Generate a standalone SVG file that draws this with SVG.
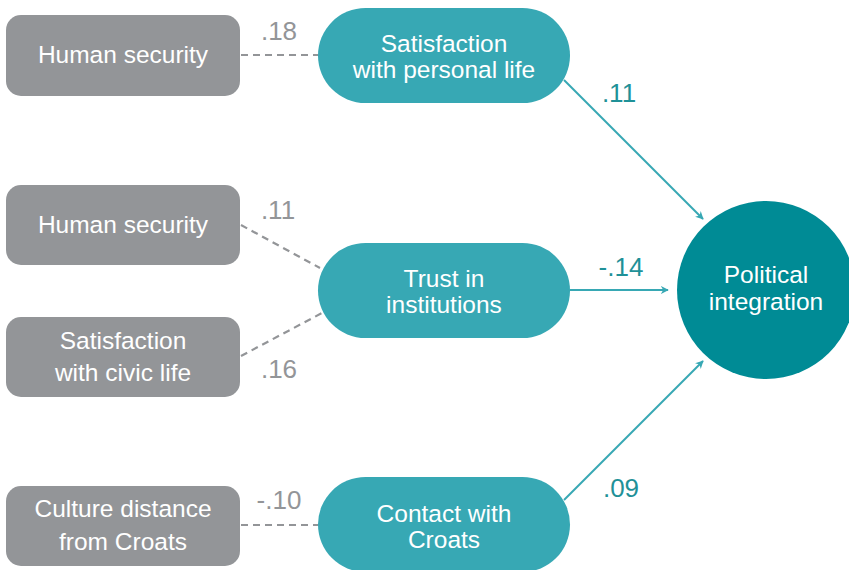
<svg xmlns="http://www.w3.org/2000/svg" width="849" height="570" viewBox="0 0 849 570">
<style>
.box{fill:#939598}
.pill{fill:#37a8b4}
.t{font-family:"Liberation Sans",Arial,sans-serif;font-size:24.5px;fill:#fff;text-anchor:middle}
.dash{stroke:#939598;stroke-width:2.2;stroke-dasharray:7,5;fill:none}
.arr{stroke:#37a8b4;stroke-width:2;fill:none;marker-end:url(#ah)}
.cg{font-family:"Liberation Sans",Arial,sans-serif;font-size:26px;fill:#939598;text-anchor:middle}
.ct{font-family:"Liberation Sans",Arial,sans-serif;font-size:26px;fill:#1f9198;text-anchor:middle}
</style>
<defs>
<marker id="ah" viewBox="0 0 10 10" refX="9" refY="5" markerWidth="8" markerHeight="8" orient="auto" markerUnits="userSpaceOnUse">
<path d="M0,0 L10,5 L0,10 L3,5 z" fill="#37a8b4"/>
</marker>
</defs>
<rect width="849" height="570" fill="#fff"/>
<g id="connectors">
<line class="dash" x1="241" y1="55" x2="318" y2="55"/>
<line class="dash" x1="241" y1="225" x2="320" y2="268"/>
<line class="dash" x1="241" y1="356" x2="322" y2="313"/>
<line class="dash" x1="241" y1="525" x2="318" y2="525"/>
<line class="arr" x1="564" y1="80" x2="703" y2="219"/>
<line class="arr" x1="570" y1="290" x2="668" y2="290"/>
<line class="arr" x1="564" y1="500" x2="703" y2="361"/>
<text class="cg" x="279" y="40">.18</text>
<text class="cg" x="278" y="219">.11</text>
<text class="cg" x="279" y="378">.16</text>
<text class="cg" x="279" y="509">-.10</text>
<text class="ct" x="619" y="102">.11</text>
<text class="ct" x="621" y="276">-.14</text>
<text class="ct" x="621" y="497">.09</text>
</g>
<g id="hs1"><rect class="box" x="6" y="15" width="234" height="81" rx="15"/><text class="t" x="123" y="63">Human security</text></g>
<g id="hs2"><rect class="box" x="6" y="185" width="234" height="80" rx="15"/><text class="t" x="123" y="233">Human security</text></g>
<g id="scl"><rect class="box" x="6" y="317" width="234" height="80" rx="15"/><text class="t" x="123" y="349">Satisfaction</text><text class="t" x="123" y="381">with civic life</text></g>
<g id="cd"><rect class="box" x="6" y="486" width="234" height="80" rx="15"/><text class="t" x="123" y="517">Culture distance</text><text class="t" x="123" y="550">from Croats</text></g>
<g id="spl"><rect class="pill" x="318" y="8" width="252" height="95" rx="47.5"/><text class="t" x="444" y="52">Satisfaction</text><text class="t" x="444" y="78">with personal life</text></g>
<g id="ti"><rect class="pill" x="318" y="243" width="252" height="95" rx="47.5"/><text class="t" x="444" y="287">Trust in</text><text class="t" x="444" y="313">institutions</text></g>
<g id="cc"><rect class="pill" x="318" y="477" width="252" height="95" rx="47.5"/><text class="t" x="444" y="522">Contact with</text><text class="t" x="444" y="548">Croats</text></g>
<g id="pi"><circle cx="766" cy="290" r="89" fill="#008b95"/><text class="t" x="766" y="283">Political</text><text class="t" x="766" y="310">integration</text></g>
</svg>
